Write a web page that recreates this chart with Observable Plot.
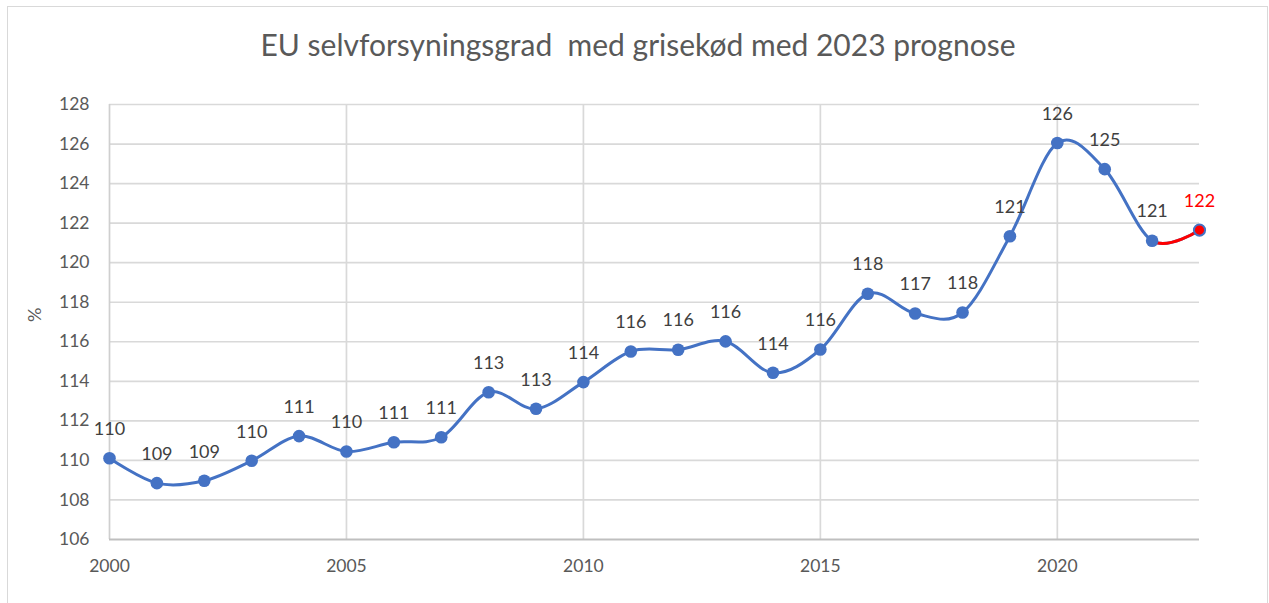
<!DOCTYPE html>
<html>
<head>
<meta charset="utf-8">
<script src="https://cdn.jsdelivr.net/npm/d3@7"></script>
<script src="https://cdn.jsdelivr.net/npm/@observablehq/plot@0.6"></script>
<style>
  html, body { margin: 0; padding: 0; background: #fff; }
  #wrap { position: relative; width: 1269px; height: 603px; overflow: hidden; font-family: Lato, "Open Sans", sans-serif; }
  #frame { position: absolute; left: 7px; top: 6px; width: 1261px; height: 620px; border: 1.5px solid #d9d9d9; box-sizing: border-box; }
  #title { position: absolute; left: 8px; width: 1260px; top: 24px; text-align: center; font-size: 30px; color: #595959; line-height: 40px; white-space: pre; }
  #chart { position: absolute; left: 0; top: 0; }
</style>
</head>
<body>
<div id="wrap">
  <div id="frame"></div>
  <div id="title">EU selvforsyningsgrad  med grisekød med 2023 prognose</div>
  <div id="chart"></div>
</div>
<script>
const years = [2000, 2001, 2002, 2003, 2004, 2005, 2006, 2007, 2008, 2009, 2010, 2011,
               2012, 2013, 2014, 2015, 2016, 2017, 2018, 2019, 2020, 2021, 2022, 2023];
const values = [110.11, 108.85, 108.97, 109.98, 111.23, 110.45, 110.92, 111.17, 113.45, 112.61, 113.96, 115.51,
                115.60, 116.02, 114.43, 115.61, 118.43, 117.43, 117.48, 121.34, 126.05, 124.73, 121.11, 121.65];
const labels = ["110", "109", "109", "110", "111", "110", "111", "111", "113", "113", "114", "116",
                "116", "116", "114", "116", "118", "117", "118", "121", "126", "125", "121", "122"];
const yTicks = [106, 108, 110, 112, 114, 116, 118, 120, 122, 124, 126, 128];
const xTicks = [2000, 2005, 2010, 2015, 2020];
const forecastYear = 2023;
const yLabel = "%";

const data = years.map((year, i) => ({year, value: values[i], label: labels[i]}));
const actual = data.filter(d => d.year < forecastYear);
const forecast = data.filter(d => d.year === forecastYear);
const redSegment = data.slice(-3);

const blue = "#4472C4";
const red = "#FF0000";

const chart = Plot.plot({
  width: 1269,
  height: 603,
  marginLeft: 109,
  marginRight: 70,
  marginTop: 104,
  marginBottom: 64,
  style: {fontFamily: "Lato, 'Open Sans', sans-serif", background: "transparent"},
  x: {domain: [2000, 2023]},
  y: {domain: [106, 128]},
  marks: [
    Plot.ruleY(yTicks.slice(1), {stroke: "#d9d9d9", strokeWidth: 1.7}),
    Plot.ruleX(xTicks.slice(1), {stroke: "#d9d9d9", strokeWidth: 1.7}),
    Plot.ruleX([xTicks[0]], {stroke: "#cfcfcf", strokeWidth: 1.7}),
    Plot.ruleY([yTicks[0]], {stroke: "#bfbfbf", strokeWidth: 2}),
    Plot.axisY(yTicks, {tickSize: 0, tickPadding: 20, fontSize: 17.5, color: "#595959", label: null}),
    Plot.axisX(xTicks, {tickSize: 0, tickPadding: 20, fontSize: 17.5, color: "#595959", label: null, tickFormat: d => String(d)}),
    Plot.text([yLabel], {frameAnchor: "left", dx: -74, rotate: -90, fontSize: 18, fill: "#595959"}),
    Plot.line(data, {x: "year", y: "value", curve: "cardinal", stroke: blue, strokeWidth: 3}),
    Plot.line(redSegment, {x: "year", y: "value", curve: "cardinal", stroke: red, strokeWidth: 3}),
    Plot.dot(actual, {x: "year", y: "value", r: 6.3, fill: blue}),
    Plot.dot(forecast, {x: "year", y: "value", r: 5.6, fill: red, stroke: blue, strokeWidth: 2}),
    Plot.text(actual, {x: "year", y: "value", text: "label", dy: -29, fontSize: 18, fill: "#404040"}),
    Plot.text(forecast, {x: "year", y: "value", text: "label", dy: -29, fontSize: 18, fill: red})
  ]
});

// clip the forecast line so only the last (2022 -> 2023) segment is red
const xs = chart.scale("x");
const x0 = xs.apply(years[years.length - 2]);
const ns = "http://www.w3.org/2000/svg";
const defs = document.createElementNS(ns, "defs");
const cp = document.createElementNS(ns, "clipPath");
cp.setAttribute("id", "forecastClip");
cp.setAttribute("clipPathUnits", "userSpaceOnUse");
const rect = document.createElementNS(ns, "rect");
rect.setAttribute("x", x0);
rect.setAttribute("y", 0);
rect.setAttribute("width", 1269 - x0);
rect.setAttribute("height", 603);
cp.appendChild(rect);
defs.appendChild(cp);
chart.appendChild(defs);
const lineGroups = chart.querySelectorAll('g[aria-label="line"]');
if (lineGroups.length > 1) {
  const g = lineGroups[lineGroups.length - 1];
  const wrapper = document.createElementNS(ns, "g");
  wrapper.setAttribute("clip-path", "url(#forecastClip)");
  g.parentNode.insertBefore(wrapper, g);
  wrapper.appendChild(g);
}

document.getElementById("chart").appendChild(chart);
</script>
</body>
</html>
